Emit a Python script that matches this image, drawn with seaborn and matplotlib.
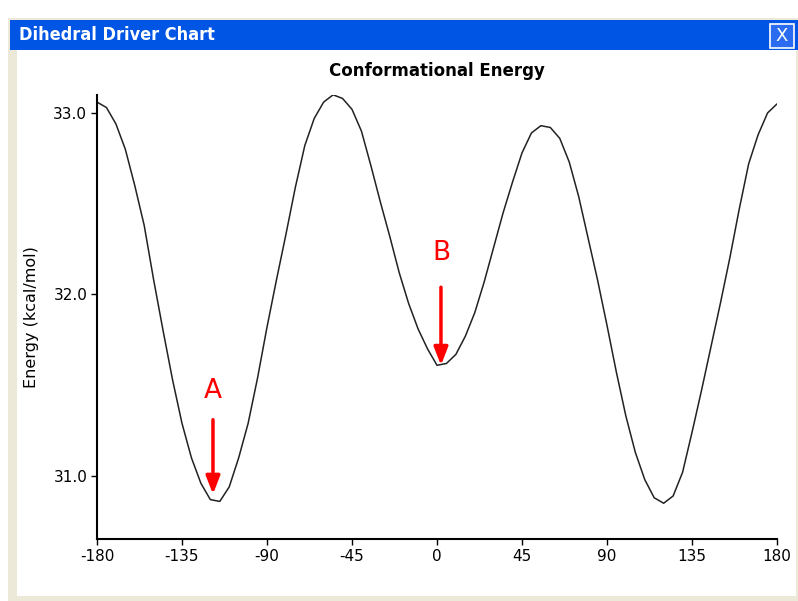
import seaborn as sns
import matplotlib.pyplot as plt
import pandas as pd
from matplotlib.patches import Rectangle

# Dihedral angle (deg) and conformational energy (kcal/mol)
angle = list(range(-180, 181, 5))
energy = [33.06, 33.03, 32.94, 32.80, 32.60, 32.38, 32.08, 31.80, 31.53, 31.29,
          31.10, 30.96, 30.87, 30.86, 30.94, 31.10, 31.29, 31.54, 31.82, 32.08,
          32.33, 32.59, 32.82, 32.97, 33.06, 33.10, 33.08, 33.02, 32.90, 32.71,
          32.51, 32.32, 32.12, 31.95, 31.81, 31.70, 31.61, 31.62, 31.67, 31.77,
          31.90, 32.07, 32.26, 32.45, 32.62, 32.78, 32.89, 32.93, 32.92, 32.86,
          32.73, 32.54, 32.31, 32.08, 31.83, 31.57, 31.33, 31.13, 30.98, 30.88,
          30.85, 30.89, 31.02, 31.24, 31.47, 31.71, 31.95, 32.20, 32.47, 32.72,
          32.88, 33.00, 33.05]
x_ticks = [-180, -135, -90, -45, 0, 45, 90, 135, 180]
y_ticks = [31.0, 32.0, 33.0]

# annotated minima: label, angle, arrow tail, arrow head, label height
marks = [("A", -118.6, 31.31, 30.90, 31.47),
         ("B", 2.1, 32.04, 31.61, 32.23)]

df = pd.DataFrame({"angle": angle, "energy": energy})

sns.set_theme(style="white")
plt.rcParams['font.family'] = ['DejaVu Sans']

W, H = 798, 601
fig = plt.figure(figsize=(W / 100, H / 100), dpi=100, facecolor="white")


def px_rect(x0, y0, x1, y1, lw=0, **kw):
    # rectangle given in pixel coords, origin top-left
    fig.add_artist(Rectangle((x0 / W, 1 - y1 / H), (x1 - x0) / W, (y1 - y0) / H,
                             transform=fig.transFigure, linewidth=lw,
                             zorder=-10, **kw))


# window frame
px_rect(8, 18, 798, 601, facecolor="#ECE9D8")
px_rect(17, 50, 796, 596, facecolor="white")
px_rect(10, 20, 798, 50, facecolor="#0055E5")
px_rect(770, 24, 794, 48, lw=1.2, facecolor="#2A6BF0", edgecolor="white")
fig.text(782 / W, 1 - 36 / H, "X", color="white", fontsize=13,
         ha="center", va="center")
fig.text(19 / W, 1 - 35 / H, "Dihedral Driver Chart", color="white",
         fontsize=13, fontweight="bold", ha="left", va="center",
         family=["DejaVu Sans"], fontstretch="condensed")

ax = fig.add_axes([97 / W, 1 - 539 / H, 680 / W, 444 / H])
ax.set_facecolor("none")
sns.lineplot(data=df, x="angle", y="energy", ax=ax, color="#222222", linewidth=1.1)

ax.set_xlim(-180, 180)
ax.set_ylim(30.653, 33.099)
ax.set_xticks(x_ticks)
ax.set_xticklabels([str(t) for t in x_ticks])
ax.set_yticks(y_ticks)
ax.set_yticklabels([f"{t:.1f}" for t in y_ticks])
ax.tick_params(axis="both", which="both", direction="out", length=4, width=1,
               color="black", labelsize=11, labelcolor="black", bottom=True,
               left=True, pad=3)
sns.despine(ax=ax)
for s in ("left", "bottom"):
    ax.spines[s].set_color("black")
    ax.spines[s].set_linewidth(1.5)

ax.set_xlabel("")
ax.set_ylabel("Energy (kcal/mol)", fontsize=11.5, color="black", labelpad=10)
ax.set_title("Conformational Energy", fontsize=12, fontweight="bold",
             color="black", pad=14)

for label, xa, y_tail, y_head, y_lab in marks:
    ax.annotate("", xy=(xa, y_head), xytext=(xa, y_tail),
                arrowprops=dict(arrowstyle="-|>,head_width=0.35,head_length=0.9",
                                color="red", linewidth=2.5, shrinkA=0, shrinkB=0))
    ax.text(xa, y_lab, label, color="red", fontsize=19, ha="center", va="center")

plt.savefig("out.png", dpi=100)
